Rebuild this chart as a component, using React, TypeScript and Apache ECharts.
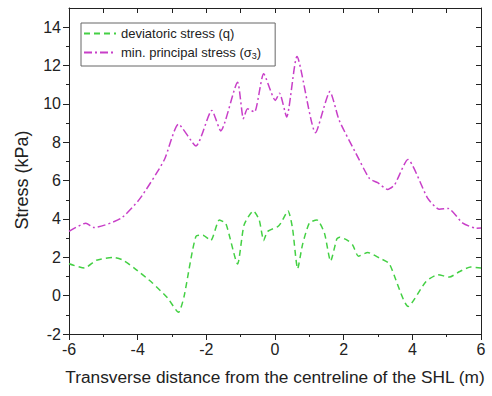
import React, { useEffect, useRef } from 'react';
import * as echarts from 'echarts';

// Transverse distance (m) and stresses (kPa)
const qX = [-6, -5.55, -5.2, -4.7, -4.45, -4.1, -3.57, -3.13, -2.81, -2.65, -2.3, -2.1, -1.87, -1.62, -1.43, -1.09, -0.9, -0.63, -0.46, -0.33, -0.22, 0.08, 0.17, 0.38, 0.51, 0.66, 0.8, 1.0, 1.22, 1.44, 1.62, 1.8, 1.88, 2.1, 2.26, 2.43, 2.7, 3.04, 3.33, 3.88, 4.4, 4.74, 5.08, 5.38, 5.7, 6];
const qValues = [1.66, 1.44, 1.85, 1.99, 1.87, 1.44, 0.66, -0.12, -0.87, -0.05, 3.1, 3.15, 2.88, 3.95, 3.75, 1.65, 3.69, 4.42, 3.95, 2.88, 3.34, 3.6, 3.78, 4.42, 3.52, 1.4, 2.65, 3.78, 3.95, 3.26, 1.8, 2.95, 3.05, 2.9, 2.65, 2.06, 2.25, 1.96, 1.66, -0.56, 0.74, 1.09, 0.97, 1.26, 1.49, 1.44];

const s3X = [-6, -5.51, -5.27, -4.49, -3.93, -3.23, -2.81, -2.3, -1.84, -1.58, -1.09, -0.92, -0.8, -0.6, -0.33, 0.01, 0.13, 0.34, 0.64, 1.18, 1.6, 1.87, 2.36, 2.75, 2.99, 3.28, 3.48, 3.87, 4.45, 4.79, 5.04, 5.47, 5.86, 6];
const s3Values = [3.35, 3.78, 3.55, 4.03, 5.07, 7.06, 8.94, 7.81, 9.66, 8.59, 11.13, 9.23, 9.75, 9.57, 11.57, 10.18, 10.56, 9.32, 12.47, 8.5, 10.64, 9.14, 7.41, 6.11, 5.89, 5.54, 5.77, 7.1, 5.07, 4.5, 4.55, 3.78, 3.52, 3.53];

const yMajorTicks = [-2, 0, 2, 4, 6, 8, 10, 12, 14];
const yMinorTicks = [-1, 1, 3, 5, 7, 9, 11, 13];
const yAllTicks = [-1, 0, 1, 2, 3, 4, 5, 6, 7, 8, 9, 10, 11, 12, 13, 14];

const qName = 'deviatoric stress (q)';
const s3Name = 'min. principal stress (σ3)';

const FONT = '"Liberation Sans", Arial, sans-serif';
const AX = '#222';

export default function App() {
  const ref = useRef<HTMLDivElement>(null);
  useEffect(() => {
    if (!ref.current) return;
    const chart = echarts.init(ref.current, null, { renderer: 'svg' });
    const axisLine = { show: true, onZero: false, lineStyle: { color: AX, width: 1 } };
    chart.setOption({
      animation: false,
      backgroundColor: '#fff',
      textStyle: { fontFamily: FONT },
      grid: { left: 69, right: 11, top: 8, bottom: 62 },
      legend: {
        orient: 'vertical',
        left: 81,
        top: 23,
        itemWidth: 32,
        itemHeight: 13,
        itemGap: 6,
        padding: [4, 14, 6, 2],
        borderColor: '#666',
        borderWidth: 1,
        itemStyle: { opacity: 0 },
        data: [qName, s3Name],
        formatter: (name: string) =>
          name === s3Name ? '{a|min. principal stress (σ}{sub|3}{a|)}' : '{a|' + name + '}',
        textStyle: {
          fontSize: 13,
          color: AX,
          fontFamily: FONT,
          rich: {
            a: { fontSize: 13, color: AX, fontFamily: FONT },
            sub: { fontSize: 9, color: AX, fontFamily: FONT, verticalAlign: 'bottom', padding: [6, 0, 0, 0] },
          },
        },
      },
      xAxis: [
        {
          type: 'value', position: 'bottom', min: -6, max: 6, interval: 2,
          axisLine, splitLine: { show: false },
          axisTick: { show: true, inside: false, length: 6, lineStyle: { color: AX } },
          minorTick: { show: true, splitNumber: 2, length: 3, lineStyle: { color: AX } },
          axisLabel: { fontSize: 16, color: AX, margin: 7, fontFamily: FONT },
          name: 'Transverse distance from the centreline of the SHL (m)',
          nameLocation: 'middle', nameGap: 34,
          nameTextStyle: { fontSize: 17.3, color: AX, fontFamily: FONT },
        },
        {
          type: 'value', position: 'top', min: -6, max: 6, interval: 2,
          axisLine, splitLine: { show: false },
          axisTick: { show: true, inside: true, length: 5, lineStyle: { color: AX } },
          minorTick: { show: true, splitNumber: 2, length: 5, lineStyle: { color: AX } },
          axisLabel: { show: false },
        },
      ],
      yAxis: [
        {
          type: 'value', position: 'left', min: -2, max: 15, interval: 2,
          axisLine, splitLine: { show: false },
          axisTick: { show: true, inside: false, length: 6, customValues: yMajorTicks, lineStyle: { color: AX } },
          axisLabel: { fontSize: 16, color: AX, margin: 8, fontFamily: FONT, customValues: yMajorTicks },
          name: 'Stress (kPa)', nameLocation: 'middle', nameGap: 38, nameRotate: 90,
          nameTextStyle: { fontSize: 18, color: AX, fontFamily: FONT, padding: [0, 18, 0, 0] },
        },
        {
          type: 'value', position: 'right', min: -2, max: 15, interval: 1,
          axisLine, splitLine: { show: false },
          axisTick: { show: true, inside: true, length: 5, customValues: yAllTicks, lineStyle: { color: AX } },
          axisLabel: { show: false },
        },
        {
          type: 'value', position: 'left', min: -2, max: 15, interval: 1,
          axisLine: { show: false, onZero: false }, splitLine: { show: false },
          axisTick: { show: true, inside: false, length: 3, customValues: yMinorTicks, lineStyle: { color: AX } },
          axisLabel: { show: false },
        },
      ],
      series: [
        {
          name: qName, type: 'line', xAxisIndex: 0, yAxisIndex: 0,
          symbol: 'none', showSymbol: false, smooth: 0.2,
          data: qX.map((x, i) => [x, qValues[i]]),
          itemStyle: { color: '#44d044' },
          lineStyle: { color: '#44d044', width: 1.5, type: [6, 4] },
        },
        {
          name: s3Name, type: 'line', xAxisIndex: 0, yAxisIndex: 0,
          symbol: 'none', showSymbol: false, smooth: 0.2,
          data: s3X.map((x, i) => [x, s3Values[i]]),
          itemStyle: { color: '#c83fc8' },
          lineStyle: { color: '#c83fc8', width: 1.5, type: [8, 3, 2, 3] },
        },
      ],
    });
    return () => chart.dispose();
  }, []);
  return <div ref={ref} style={{ position: 'fixed', left: 0, top: 0, width: 492, height: 396 }} />;
}
